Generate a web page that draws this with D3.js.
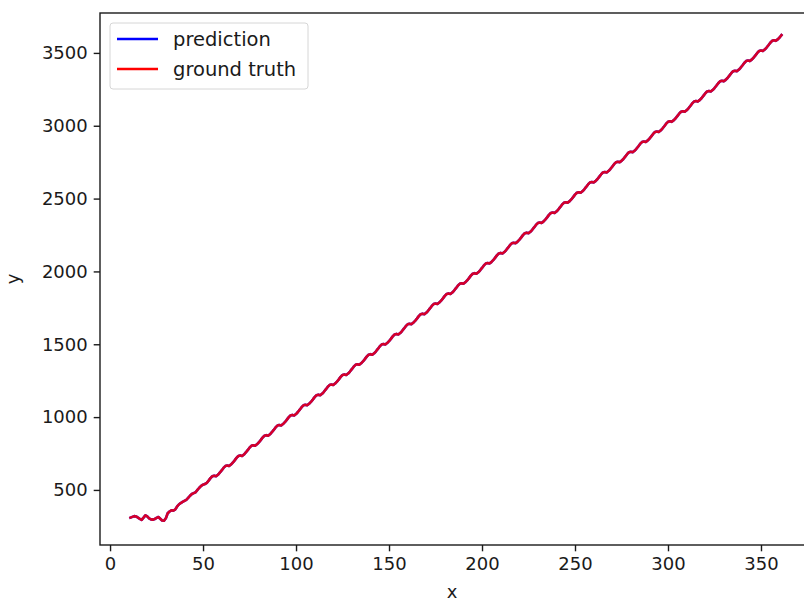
<!DOCTYPE html>
<html>
<head>
<meta charset="utf-8">
<script src="https://cdn.jsdelivr.net/npm/d3@7"></script>
<style>
  html, body { margin: 0; padding: 0; background: #fff; }
  svg { display: block; }
  text { font-family: "DejaVu Sans", sans-serif; fill: #1a1a1a; }
</style>
</head>
<body>
<svg id="chart" width="804" height="602"></svg>
<script>
// Day index of the first observation; one value per consecutive day follows.
const startDay = 11;

// Observed cumulative values, one per day (days 11 .. 361).
const groundTruth = [
  310, 315, 320, 318, 310, 302, 295, 310, 326, 318, 305, 298, 296, 300, 308, 314, 302, 290, 288, 305,
  340, 352, 360, 358, 365, 385, 400, 410, 418, 425, 432, 445, 460, 472, 478, 484, 500, 515, 528, 536,
  540, 548,
  564, 581, 594, 598, 594, 604, 618,
  634, 651, 664, 668, 664, 674, 687,
  703, 720, 733, 737, 733, 743, 757,
  773, 790, 803, 807, 803, 813, 826,
  842, 859, 872, 876, 872, 882, 896,
  912, 929, 942, 946, 942, 952, 965,
  981, 998, 1011, 1015, 1011, 1021, 1035,
  1051, 1068, 1081, 1085, 1081, 1091, 1104,
  1120, 1137, 1150, 1154, 1150, 1160, 1174,
  1190, 1207, 1220, 1224, 1220, 1230, 1243,
  1259, 1276, 1289, 1293, 1289, 1299, 1313,
  1329, 1346, 1359, 1363, 1359, 1369, 1382,
  1398, 1415, 1428, 1432, 1428, 1438, 1452,
  1468, 1485, 1498, 1502, 1498, 1508, 1521,
  1537, 1554, 1567, 1571, 1567, 1577, 1591,
  1607, 1624, 1637, 1641, 1637, 1647, 1660,
  1676, 1693, 1706, 1710, 1706, 1716, 1730,
  1746, 1763, 1776, 1780, 1776, 1786, 1799,
  1815, 1832, 1845, 1849, 1845, 1855, 1869,
  1885, 1902, 1915, 1919, 1915, 1925, 1938,
  1954, 1971, 1984, 1988, 1984, 1994, 2008,
  2024, 2041, 2054, 2058, 2054, 2064, 2077,
  2093, 2110, 2123, 2127, 2123, 2133, 2147,
  2163, 2180, 2193, 2197, 2193, 2203, 2216,
  2232, 2249, 2262, 2266, 2262, 2272, 2286,
  2302, 2319, 2332, 2336, 2332, 2342, 2355,
  2371, 2388, 2401, 2405, 2401, 2411, 2425,
  2441, 2458, 2471, 2475, 2471, 2481, 2494,
  2510, 2527, 2540, 2544, 2540, 2550, 2564,
  2580, 2597, 2610, 2614, 2610, 2620, 2633,
  2649, 2666, 2679, 2683, 2679, 2689, 2703,
  2719, 2736, 2749, 2753, 2749, 2759, 2772,
  2788, 2805, 2818, 2822, 2818, 2828, 2842,
  2858, 2875, 2888, 2892, 2888, 2898, 2911,
  2927, 2944, 2957, 2961, 2957, 2967, 2981,
  2997, 3014, 3027, 3031, 3027, 3037, 3050,
  3066, 3083, 3096, 3100, 3096, 3106, 3120,
  3136, 3153, 3166, 3170, 3166, 3176, 3189,
  3205, 3222, 3235, 3239, 3235, 3245, 3259,
  3275, 3292, 3305, 3309, 3305, 3315, 3328,
  3344, 3361, 3374, 3378, 3374, 3384, 3398,
  3414, 3431, 3444, 3448, 3444, 3454, 3467,
  3483, 3500, 3513, 3517, 3513, 3523, 3537,
  3553, 3570, 3583, 3587, 3583, 3593, 3606,
  3622
];

// The model's prediction coincides with the observed series.
const prediction = groundTruth.slice();

const xTicks = [0, 50, 100, 150, 200, 250, 300, 350];
const yTicks = [500, 1000, 1500, 2000, 2500, 3000, 3500];

const seriesNames = ["prediction", "ground truth"];
const seriesColors = ["#0000ff", "#ff0000"];

// ---- layout ----
const W = 804, H = 602;
const plot = { left: 100, top: 13, right: 806, bottom: 545 };
const FONT = 18;
const LEGEND_FONT = 19.5;

const svg = d3.select("#chart");

const x = d3.scaleLinear().domain([-5.4, 374.2]).range([plot.left, plot.right]);
const y = d3.scaleLinear().domain([122, 3774]).range([plot.bottom, plot.top]);

const days = d3.range(startDay, startDay + groundTruth.length);
const toPoints = vals => vals.map((v, i) => [days[i], v]);

const line = d3.line().x(d => x(d[0])).y(d => y(d[1]));

// ---- series (prediction underneath, ground truth drawn over it) ----
const g = svg.append("g");
[prediction, groundTruth].forEach((vals, i) => {
  g.append("path")
    .datum(toPoints(vals))
    .attr("d", line)
    .attr("fill", "none")
    .attr("stroke", seriesColors[i])
    .attr("stroke-opacity", i === 1 ? 0.84 : 1)
    .attr("stroke-width", 2.6)
    .attr("stroke-linejoin", "round")
    .attr("stroke-linecap", "square");
});

// ---- axes ----
const xAxis = d3.axisBottom(x).tickValues(xTicks).tickSize(6.3).tickPadding(6).tickFormat(d3.format("d"));
const yAxis = d3.axisLeft(y).tickValues(yTicks).tickSize(6.3).tickPadding(6).tickFormat(d3.format("d"));

const gx = svg.append("g").attr("transform", `translate(0,${plot.bottom})`).call(xAxis);
const gy = svg.append("g").attr("transform", `translate(${plot.left},0)`).call(yAxis);

[gx, gy].forEach(ax => {
  ax.select(".domain").remove();
  ax.selectAll(".tick line").attr("stroke", "#1a1a1a").attr("stroke-width", 1.4);
  ax.selectAll(".tick text")
    .attr("font-size", FONT)
    .attr("font-family", "DejaVu Sans, sans-serif")
    .attr("fill", "#1a1a1a");
});

// spines
svg.append("rect")
  .attr("x", plot.left).attr("y", plot.top)
  .attr("width", plot.right - plot.left).attr("height", plot.bottom - plot.top)
  .attr("fill", "none").attr("stroke", "#1a1a1a").attr("stroke-width", 1.4);

// axis labels
svg.append("text")
  .attr("x", (plot.left + W) / 2).attr("y", 598)
  .attr("text-anchor", "middle").attr("font-size", FONT)
  .text("x");

svg.append("text")
  .attr("transform", `translate(19,${(plot.top + plot.bottom) / 2}) rotate(-90)`)
  .attr("text-anchor", "middle").attr("font-size", FONT)
  .text("y");

// ---- legend ----
const legend = svg.append("g").attr("transform", "translate(110,23)");
legend.append("rect")
  .attr("x", 0).attr("y", 0).attr("width", 198).attr("height", 66)
  .attr("rx", 3).attr("ry", 3)
  .attr("fill", "#fff").attr("fill-opacity", 0.8)
  .attr("stroke", "#d6d6d6").attr("stroke-width", 1);

seriesNames.forEach((name, i) => {
  const cy = 16 + i * 30;
  legend.append("line")
    .attr("x1", 7).attr("x2", 48).attr("y1", cy).attr("y2", cy)
    .attr("stroke", seriesColors[i]).attr("stroke-width", 2.6);
  legend.append("text")
    .attr("x", 63).attr("y", cy + 6.5)
    .attr("font-size", LEGEND_FONT)
    .text(name);
});
</script>
</body>
</html>
